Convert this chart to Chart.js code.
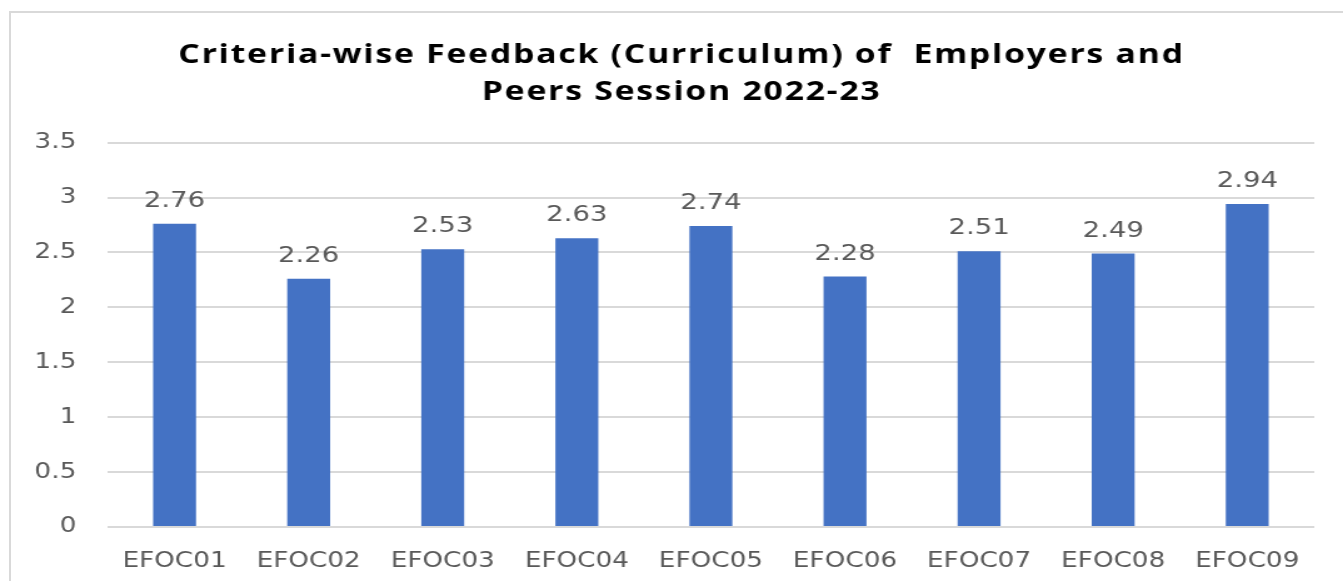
<!DOCTYPE html>
<html>
<head>
<meta charset="utf-8">
<script src="https://cdn.jsdelivr.net/npm/chart.js@4.4.1/dist/chart.umd.min.js"></script>
<style>
    html, body { margin: 0; padding: 0; background: #fff; overflow: hidden; }
    #page { position: relative; width: 1343px; height: 581px; overflow: hidden; }
    #frame {
        position: absolute; left: 9px; top: 11px; width: 1360px; height: 600px;
        border: 2px solid #d9d9d9; box-sizing: border-box;
    }
    #stretch {
        position: absolute; left: 0; top: 0; width: 1074px; height: 581px;
        transform: scaleX(1.2505); transform-origin: 0 0;
    }
</style>
</head>
<body>
<div id="page">
    <div id="frame"></div>
    <div id="stretch"><canvas id="feedbackChart" width="1074" height="581"></canvas></div>
</div>
<script>
// criteria codes and average scores
const criteria = ["EFOC01", "EFOC02", "EFOC03", "EFOC04", "EFOC05", "EFOC06", "EFOC07", "EFOC08", "EFOC09"];
const scores = [2.76, 2.26, 2.53, 2.63, 2.74, 2.28, 2.51, 2.49, 2.94];
const titleLines = ["Criteria-wise Feedback (Curriculum) of  Employers and", "Peers Session 2022-23"];

const barColor = "#4472C4";
const textGray = "#595959";
const gridGray = "#d9d9d9";

// value labels over each bar
const barLabels = {
    id: "barLabels",
    afterDatasetsDraw(chart) {
        const ctx = chart.ctx;
        const meta = chart.getDatasetMeta(0);
        ctx.save();
        ctx.font = "22px 'DejaVu Sans'";
        ctx.fillStyle = textGray;
        ctx.textAlign = "center";
        ctx.textBaseline = "alphabetic";
        meta.data.forEach((bar, i) => {
            ctx.fillText(scores[i].toFixed(2), bar.x, bar.y - 17);
        });
        ctx.restore();
    }
};

// title sits a bit right of the canvas centre and is spaced wider
const titleTweak = {
    id: "titleTweak",
    afterLayout(chart) {
        const block = chart.titleBlock;
        if (!block) return;
        block.left = 39;
        if (!block._spaced) {
            const draw = block.draw;
            block.draw = function () {
                const ctx = chart.ctx;
                ctx.save();
                ctx.letterSpacing = "1.4px";
                draw.call(this);
                ctx.restore();
            };
            block._spaced = true;
        }
    }
};

new Chart(document.getElementById("feedbackChart"), {
    type: "bar",
    data: {
        labels: criteria,
        datasets: [{
            data: scores,
            backgroundColor: barColor,
            borderWidth: 0,
            categoryPercentage: 1,
            barPercentage: 0.32
        }]
    },
    options: {
        responsive: false,
        animation: false,
        layout: { padding: { left: 0, right: 23, top: 0, bottom: 0 } },
        plugins: {
            legend: { display: false },
            tooltip: { enabled: false },
            title: {
                display: true,
                text: titleLines,
                color: "#000",
                font: { family: "'Open Sans'", size: 27, weight: "bold", lineHeight: 1.4 },
                padding: { top: 36, bottom: 31 }
            }
        },
        scales: {
            x: {
                grid: { display: false },
                border: { display: false },
                ticks: {
                    color: textGray,
                    font: { family: "'DejaVu Sans'", size: 21 },
                    padding: 14,
                    maxRotation: 0
                },
                afterFit(scale) { scale.height = 54; }
            },
            y: {
                min: 0,
                max: 3.5,
                ticks: {
                    stepSize: 0.5,
                    color: textGray,
                    font: { family: "'DejaVu Sans'", size: 21 },
                    padding: 25,
                    callback: (value) => String(value)
                },
                grid: { color: gridGray, lineWidth: 2, drawTicks: false },
                border: { display: false },
                afterFit(scale) { scale.width = 86; }
            }
        }
    },
    plugins: [barLabels, titleTweak]
});
</script>
</body>
</html>
